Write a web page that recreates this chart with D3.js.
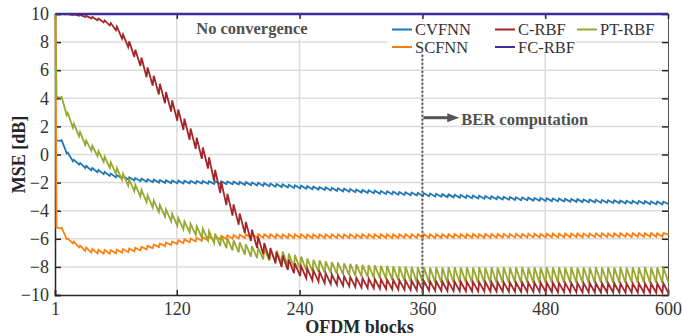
<!DOCTYPE html>
<html lang="en">
<head>
    <meta charset="UTF-8">
    <title>MSE vs OFDM blocks</title>
    <script src="https://cdnjs.cloudflare.com/ajax/libs/d3/7.8.5/d3.min.js"></script>
    <style>
        body { margin: 0; background: #fff; }
        svg text { font-family: "Liberation Serif", "Times New Roman", serif; }
    </style>
</head>
<body>
    <script>
        // sample points: block 1, block 2, then for each 6-block cycle the low (6k) and the jump (6k+1), and block 600
        var blocks = [1, 2].concat(d3.range(6, 600, 6).flatMap(function(b) { return [b, b + 1]; }), [600]);

        var cvfnn = [1.0, 1.0,
            0.97, 1.02, 0.08, 0.14, -0.48, -0.38, -0.72, -0.6, -0.96, -0.82, -1.12, -0.96, -1.26, -1.1, -1.4, -1.24, -1.52, -1.36, -1.62, -1.46,
            -1.7, -1.54, -1.78, -1.62, -1.84, -1.67, -1.9, -1.72, -1.94, -1.76, -1.97, -1.79, -2.0, -1.82, -2.02, -1.84, -2.04, -1.85, -2.05, -1.86,
            -2.06, -1.87, -2.06, -1.88, -2.07, -1.88, -2.07, -1.89, -2.08, -1.9, -2.09, -1.9, -2.1, -1.91, -2.11, -1.92, -2.12, -1.93, -2.14, -1.95,
            -2.16, -1.97, -2.18, -1.99, -2.2, -2.01, -2.23, -2.04, -2.26, -2.07, -2.29, -2.1, -2.32, -2.13, -2.35, -2.16, -2.38, -2.19, -2.41, -2.22,
            -2.44, -2.25, -2.47, -2.28, -2.5, -2.31, -2.53, -2.34, -2.56, -2.37, -2.59, -2.4, -2.62, -2.43, -2.65, -2.46, -2.68, -2.49, -2.71, -2.52,
            -2.74, -2.55, -2.76, -2.57, -2.79, -2.6, -2.81, -2.62, -2.83, -2.64, -2.86, -2.67, -2.88, -2.69, -2.9, -2.71, -2.92, -2.73, -2.95, -2.76,
            -2.97, -2.78, -2.99, -2.8, -3.01, -2.82, -3.03, -2.84, -3.05, -2.86, -3.07, -2.88, -3.09, -2.9, -3.11, -2.92, -3.13, -2.94, -3.15, -2.96,
            -3.17, -2.98, -3.19, -3.0, -3.2, -3.01, -3.22, -3.03, -3.23, -3.04, -3.25, -3.06, -3.26, -3.07, -3.28, -3.09, -3.29, -3.1, -3.31, -3.12,
            -3.32, -3.13, -3.33, -3.14, -3.35, -3.16, -3.36, -3.17, -3.37, -3.18, -3.39, -3.2, -3.4, -3.21, -3.41, -3.22, -3.43, -3.24, -3.44, -3.25,
            -3.45, -3.26, -3.46, -3.27, -3.48, -3.29, -3.49, -3.3, -3.5, -3.31, -3.51, -3.32, -3.53, -3.34, -3.54, -3.35, -3.55, -3.36,
            -3.52];

        var scfnn = [10, -5.2,
            -5.25, -5.22, -6.02, -5.98, -6.32, -6.2, -6.62, -6.48, -6.86, -6.62, -6.98, -6.72, -7.04, -6.78, -7.06, -6.8, -7.06, -6.8, -7.03, -6.77,
            -6.99, -6.73, -6.95, -6.69, -6.9, -6.64, -6.83, -6.57, -6.76, -6.5, -6.67, -6.41, -6.59, -6.33, -6.52, -6.26, -6.45, -6.19, -6.37, -6.11,
            -6.3, -6.04, -6.24, -5.98, -6.19, -5.93, -6.15, -5.89, -6.11, -5.85, -6.08, -5.82, -6.05, -5.79, -6.02, -5.76, -5.99, -5.73, -5.97, -5.71,
            -5.95, -5.69, -5.93, -5.67, -5.92, -5.66, -5.93, -5.67, -5.94, -5.68, -5.94, -5.68, -5.95, -5.69, -5.94, -5.68, -5.95, -5.69, -5.94, -5.68,
            -5.95, -5.69, -5.95, -5.69, -5.94, -5.68, -5.95, -5.69, -5.95, -5.69, -5.94, -5.68, -5.95, -5.69, -5.94, -5.68, -5.95, -5.69, -5.94, -5.68,
            -5.94, -5.68, -5.95, -5.69, -5.94, -5.68, -5.94, -5.68, -5.95, -5.69, -5.94, -5.68, -5.93, -5.67, -5.94, -5.68, -5.94, -5.68, -5.93, -5.67,
            -5.93, -5.67, -5.94, -5.68, -5.93, -5.67, -5.93, -5.67, -5.92, -5.66, -5.93, -5.67, -5.92, -5.66, -5.92, -5.66, -5.93, -5.67, -5.92, -5.66,
            -5.91, -5.65, -5.92, -5.66, -5.91, -5.65, -5.91, -5.65, -5.9, -5.64, -5.91, -5.65, -5.9, -5.64, -5.9, -5.64, -5.91, -5.65, -5.9, -5.64,
            -5.89, -5.63, -5.9, -5.64, -5.89, -5.63, -5.89, -5.63, -5.88, -5.62, -5.89, -5.63, -5.88, -5.62, -5.88, -5.62, -5.87, -5.61, -5.88, -5.62,
            -5.87, -5.61, -5.87, -5.61, -5.86, -5.6, -5.87, -5.61, -5.86, -5.6, -5.86, -5.6, -5.85, -5.59, -5.86, -5.6, -5.85, -5.59,
            -5.7];

        var crbf = [10, 10,
            10, 10, 9.98, 10, 9.93, 9.98, 9.87, 9.94, 9.79, 9.87, 9.69, 9.79, 9.56, 9.68, 9.4, 9.54, 9.18, 9.36, 8.85, 9.1,
            8.25, 8.55, 7.65, 8.05, 6.95, 7.45, 6.3, 6.9, 5.5, 6.2, 4.9, 5.6, 4.27, 5.03, 3.65, 4.45, 3.05, 3.85, 2.4, 3.2,
            1.75, 2.55, 1.05, 1.85, 0.4, 1.2, -0.3, 0.5, -1.0, -0.2, -1.9, -1.1, -2.75, -1.95, -3.6, -2.8, -4.35, -3.55, -5.0, -4.2,
            -5.6, -4.8, -6.15, -5.35, -6.65, -5.85, -7.1, -6.3, -7.45, -6.65, -7.75, -6.95, -8.0, -7.2, -8.22, -7.48, -8.45, -7.75, -8.65, -7.95,
            -8.8, -8.1, -8.95, -8.25, -9.05, -8.35, -9.15, -8.45, -9.22, -8.54, -9.28, -8.6, -9.33, -8.67, -9.38, -8.72, -9.43, -8.77, -9.47, -8.81,
            -9.5, -8.84, -9.52, -8.86, -9.55, -8.89, -9.57, -8.91, -9.59, -8.93, -9.61, -8.95, -9.63, -8.97, -9.65, -8.99, -9.66, -9.0, -9.68, -9.02,
            -9.69, -9.03, -9.7, -9.04, -9.7, -9.04, -9.71, -9.05, -9.72, -9.06, -9.72, -9.06, -9.73, -9.07, -9.73, -9.07, -9.74, -9.08, -9.74, -9.08,
            -9.75, -9.09, -9.75, -9.09, -9.76, -9.1, -9.76, -9.1, -9.77, -9.11, -9.77, -9.11, -9.78, -9.12, -9.78, -9.12, -9.78, -9.12, -9.79, -9.13,
            -9.79, -9.13, -9.8, -9.14, -9.8, -9.14, -9.8, -9.14, -9.81, -9.15, -9.81, -9.15, -9.81, -9.15, -9.82, -9.16, -9.82, -9.16, -9.82, -9.16,
            -9.82, -9.16, -9.83, -9.17, -9.83, -9.17, -9.83, -9.17, -9.83, -9.17, -9.84, -9.18, -9.84, -9.18, -9.84, -9.18, -9.84, -9.18,
            -9.84];

        var ptrbf = [10, 4.1,
            4.05, 4.1, 2.8, 2.95, 1.9, 2.2, 1.3, 1.6, 0.68, 1.0, 0.28, 0.62, -0.12, 0.24, -0.52, -0.16, -0.95, -0.55, -1.37, -0.97,
            -1.8, -1.36, -2.22, -1.78, -2.6, -2.16, -3.0, -2.52, -3.39, -2.91, -3.77, -3.27, -4.1, -3.6, -4.43, -3.91, -4.75, -4.21, -5.08, -4.52,
            -5.34, -4.76, -5.53, -4.93, -5.73, -5.11, -5.92, -5.28, -6.11, -5.45, -6.31, -5.63, -6.5, -5.8, -6.67, -5.97, -6.83, -6.11, -6.97, -6.25,
            -7.13, -6.39, -7.28, -6.52, -7.38, -6.62, -7.47, -6.69, -7.56, -6.76, -7.65, -6.83, -7.75, -6.91, -7.91, -7.05, -8.04, -7.16, -8.17, -7.27,
            -8.24, -7.4, -8.31, -7.49, -8.36, -7.54, -8.4, -7.6, -8.45, -7.65, -8.5, -7.7, -8.54, -7.74, -8.58, -7.78, -8.62, -7.82, -8.67, -7.85,
            -8.72, -7.88, -8.77, -7.89, -8.82, -7.92, -8.87, -7.93, -8.92, -7.96, -8.97, -7.97, -9.02, -7.98, -9.06, -8.0, -9.1, -8.02, -9.13, -8.03,
            -9.12, -8.04, -9.14, -8.02, -9.13, -8.05, -9.15, -8.03, -9.12, -8.02, -9.14, -8.04, -9.13, -8.03, -9.15, -8.05, -9.14, -8.02, -9.13, -8.04,
            -9.14, -8.03, -9.15, -8.05, -9.13, -8.02, -9.14, -8.04, -9.12, -8.03, -9.15, -8.01, -9.13, -8.04, -9.14, -8.03, -9.15, -8.05, -9.13, -8.02,
            -9.14, -8.04, -9.13, -8.03, -9.15, -8.05, -9.12, -8.02, -9.14, -8.04, -9.13, -8.03, -9.15, -8.05, -9.14, -8.02, -9.13, -8.04, -9.14, -8.03,
            -9.15, -8.05, -9.13, -8.02, -9.14, -8.04, -9.12, -8.03, -9.15, -8.05, -9.13, -8.02, -9.14, -8.04, -9.13, -8.03, -9.15, -8.05,
            -9.1];

        var fcBlocks = [1, 600];
        var fcrbf = [10, 10];

        var xTicks = [1, 120, 240, 360, 480, 600];
        var yTicks = [-10, -8, -6, -4, -2, 0, 2, 4, 6, 8, 10];

        // annotation anchors (in data units)
        var berBlock = 360;
        var dottedTop = 7.1;
        var arrowMse = 2.62;
        var arrowEnd = 396;
        var berLabel = { block: 398, mse: 2.08, text: "BER computation" };
        var noConv = { block: 139, mse: 8.55, text: "No convergence" };

        var width = 682, height = 336;
        var plotL = 55, plotR = 668, plotT = 14, plotB = 295;

        var svg = d3.select("body").append("svg")
            .attr("width", width)
            .attr("height", height);

        var x = d3.scaleLinear().domain([1, 600]).range([plotL, plotR]);
        var y = d3.scaleLinear().domain([-10, 10]).range([plotB, plotT]);

        // grid
        var grid = svg.append("g");
        grid.selectAll(".gx").data(xTicks.slice(1, -1)).enter().append("line")
            .attr("x1", function(d) { return x(d); }).attr("x2", function(d) { return x(d); })
            .attr("y1", plotT).attr("y2", plotB)
            .attr("stroke", "#dcdcdc").attr("stroke-width", 1.5);
        grid.selectAll(".gy").data(yTicks.slice(1, -1)).enter().append("line")
            .attr("x1", plotL).attr("x2", plotR)
            .attr("y1", function(d) { return y(d); }).attr("y2", function(d) { return y(d); })
            .attr("stroke", "#dcdcdc").attr("stroke-width", 1.5);

        // white boxes behind the text blocks
        svg.append("rect").attr("x", x(135)).attr("y", plotT + 3)
            .attr("width", x(258) - x(135)).attr("height", y(8.2) - plotT - 3).attr("fill", "#fff");
        svg.append("rect").attr("x", x(326)).attr("y", plotT + 3)
            .attr("width", x(510) - x(326)).attr("height", y(7.15) - plotT - 3).attr("fill", "#fff");

        // axes (drawn before the curves so the curves stay visible on the box)
        var axisColor = "#262626";
        var gLeft = svg.append("g").attr("transform", "translate(" + plotL + ",0)")
            .call(d3.axisLeft(y).tickValues(yTicks).tickSize(-6).tickPadding(6));
        var gBottom = svg.append("g").attr("transform", "translate(0," + plotB + ")")
            .call(d3.axisBottom(x).tickValues(xTicks).tickSize(-5).tickPadding(7));
        var gRight = svg.append("g").attr("transform", "translate(" + plotR + ",0)")
            .call(d3.axisRight(y).tickValues(yTicks).tickSize(-6).tickFormat(""));
        var gTop = svg.append("g").attr("transform", "translate(0," + plotT + ")")
            .call(d3.axisTop(x).tickValues(xTicks).tickSize(-5).tickFormat(""));

        [gLeft, gBottom].forEach(function(g) {
            g.select(".domain").attr("stroke", axisColor).attr("stroke-width", 1.5);
            g.selectAll(".tick line").attr("stroke", axisColor).attr("stroke-width", 1.5);
            g.selectAll(".tick text").attr("fill", "#333").style("font-size", "18px")
                .style("font-family", "'Liberation Serif', 'Times New Roman', serif");
        });
        [gRight, gTop].forEach(function(g) {
            g.select(".domain").attr("stroke", "#555").attr("stroke-width", 1);
            g.selectAll(".tick line").attr("stroke", axisColor).attr("stroke-width", 1.5);
        });

        // curves
        var series = [
            { name: "CVFNN", color: "#1f77b4", xs: blocks, ys: cvfnn },
            { name: "SCFNN", color: "#ff7f0e", xs: blocks, ys: scfnn },
            { name: "PT-RBF", color: "#99a832", xs: blocks, ys: ptrbf },
            { name: "C-RBF", color: "#a3262b", xs: blocks, ys: crbf },
            { name: "FC-RBF", color: "#3d2e9c", xs: fcBlocks, ys: fcrbf }
        ];

        var line = d3.line()
            .x(function(d) { return x(d[0]) + 0.5; })
            .y(function(d) { return y(d[1]); });

        svg.append("g").selectAll("path")
            .data(series)
            .enter().append("path")
            .attr("d", function(s) { return line(d3.zip(s.xs, s.ys)); })
            .attr("fill", "none")
            .attr("stroke", function(s) { return s.color; })
            .attr("stroke-width", function(s) { return s.name === "FC-RBF" ? 2.5 : 1.8; })
            .attr("stroke-linejoin", "miter");

        // dotted marker for BER computation
        svg.append("line")
            .attr("x1", x(berBlock)).attr("x2", x(berBlock))
            .attr("y1", y(dottedTop)).attr("y2", y(-10))
            .attr("stroke", "#555").attr("stroke-width", 2)
            .attr("stroke-dasharray", "2,2");

        // axis labels
        svg.append("text")
            .attr("x", (plotL + plotR) / 2 - 2).attr("y", 333)
            .attr("text-anchor", "middle")
            .attr("font-weight", "bold").attr("font-size", 18).attr("fill", axisColor)
            .text("OFDM blocks");
        svg.append("text")
            .attr("transform", "translate(25," + (plotT + plotB) / 2 + ") rotate(-90)")
            .attr("text-anchor", "middle")
            .attr("font-weight", "bold").attr("font-size", 18).attr("fill", axisColor)
            .text("MSE [dB]");

        // annotations
        svg.append("text")
            .attr("x", x(noConv.block)).attr("y", y(noConv.mse))
            .attr("font-weight", "bold").attr("font-size", 16.5).attr("fill", "#505050")
            .text(noConv.text);
        svg.append("line")
            .attr("x1", x(berBlock) + 1).attr("x2", x(arrowEnd) - 10)
            .attr("y1", y(arrowMse)).attr("y2", y(arrowMse))
            .attr("stroke", "#555").attr("stroke-width", 3);
        svg.append("path")
            .attr("d", "M" + (x(arrowEnd) - 12) + "," + (y(arrowMse) - 4.5) +
                "L" + x(arrowEnd) + "," + y(arrowMse) +
                "L" + (x(arrowEnd) - 12) + "," + (y(arrowMse) + 4.5) + "Z")
            .attr("fill", "#555");
        svg.append("text")
            .attr("x", x(berLabel.block)).attr("y", y(berLabel.mse))
            .attr("font-weight", "bold").attr("font-size", 16.5).attr("fill", "#505050")
            .text(berLabel.text);

        // legend (3 columns, 2 rows)
        var legendCols = [392, 495, 577];
        var legendRows = [29.5, 47];
        var legendOrder = ["CVFNN", "C-RBF", "PT-RBF", "SCFNN", "FC-RBF"];
        var legend = svg.append("g");
        legendOrder.forEach(function(name, i) {
            var s = series.find(function(d) { return d.name === name; });
            var lx = legendCols[i % 3], ly = legendRows[Math.floor(i / 3)];
            legend.append("line")
                .attr("x1", lx).attr("x2", lx + 20)
                .attr("y1", ly).attr("y2", ly)
                .attr("stroke", s.color).attr("stroke-width", 2);
            legend.append("text")
                .attr("x", lx + 23).attr("y", ly + 5.5)
                .attr("font-size", 16.5).attr("fill", "#333")
                .text(name);
        });
    </script>
</body>
</html>
